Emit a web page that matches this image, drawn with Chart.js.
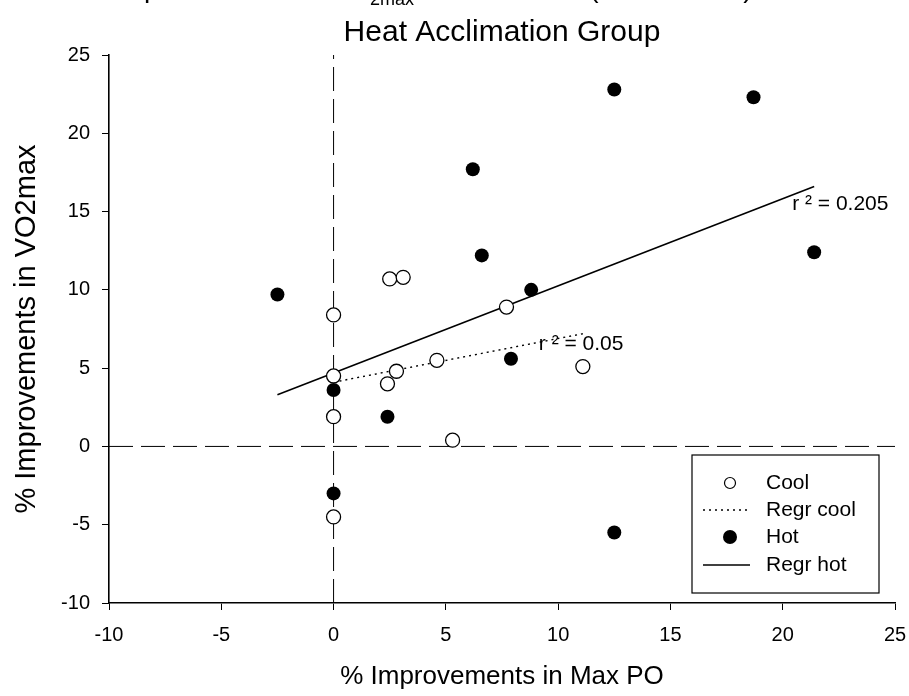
<!DOCTYPE html>
<html>
<head>
<meta charset="utf-8">
<script src="https://cdn.jsdelivr.net/npm/chart.js@4.4.1/dist/chart.umd.min.js"></script>
<style>
  html, body { margin: 0; padding: 0; background: #fff; }
  #wrap { width: 909px; height: 696px; }
</style>
</head>
<body>
<div id="wrap"><canvas id="chart" width="909" height="696"></canvas></div>
<script>
// values
const coolX = [0, 0, 0, 0, 2.4, 2.8, 2.5, 3.1, 4.6, 5.3, 7.7, 11.1];
const coolY = [8.4, 4.5, 1.9, -4.5, 4.0, 4.8, 10.7, 10.8, 5.5, 0.4, 8.9, 5.1];
const hotX = [-2.5, 0, 0, 2.4, 6.2, 6.6, 7.9, 8.8, 12.5, 12.5, 18.7, 21.4];
const hotY = [9.7, 3.6, -3.0, 1.9, 17.7, 12.2, 5.6, 10.0, 22.8, -5.5, 22.3, 12.4];
const regrCoolX = [0, 11.1];
const regrCoolY = [4.1, 7.2];
const regrHotX = [-2.5, 21.4];
const regrHotY = [3.3, 16.6];
const xTicks = [-10, -5, 0, 5, 10, 15, 20, 25];
const yTicks = [-10, -5, 0, 5, 10, 15, 20, 25];
const r2Labels = ['r ² = 0.205', 'r ² = 0.05'];

const FONT = 'Liberation Sans, Arial, sans-serif';
const pts = (xs, ys) => xs.map((x, i) => ({x: x, y: ys[i]}));

const xMin = xTicks[0], xMax = xTicks[xTicks.length - 1];
const yMin = yTicks[0], yMax = yTicks[yTicks.length - 1];

const extras = {
    id: 'extras',
    afterDraw(chart) {
        const ctx = chart.ctx;
        const xs = chart.scales.x, ys = chart.scales.y;
        ctx.save();
        ctx.fillStyle = '#000';
        ctx.textBaseline = 'alphabetic';

        // top title line, mostly cut off by the page edge
        ctx.font = '28px ' + FONT;
        ctx.textAlign = 'right';
        ctx.fillText('% Improvements in VO', 368, -3);
        ctx.font = '18px ' + FONT;
        ctx.textAlign = 'left';
        ctx.fillText('2max', 370, 5);
        ctx.font = '28px ' + FONT;
        ctx.fillText(' and Max PO (Cool vs Hot)', 418, -3);

        ctx.textAlign = 'center';
        ctx.font = '30px ' + FONT;
        ctx.fillText('Heat Acclimation Group', (chart.chartArea.left + chart.chartArea.right) / 2, 41);

        // r squared labels next to the regression ends
        ctx.font = '21px ' + FONT;
        ctx.textAlign = 'left';
        ctx.textBaseline = 'middle';
        ctx.fillText(r2Labels[0], xs.getPixelForValue(regrHotX[1]) - 22, ys.getPixelForValue(regrHotY[1]) + 18);
        ctx.fillText(r2Labels[1], xs.getPixelForValue(regrCoolX[1]) - 44, ys.getPixelForValue(regrCoolY[1]) + 11);

        // legend box
        const lx = 692, ly = 455, lw = 187, lh = 138;
        ctx.strokeStyle = '#000';
        ctx.lineWidth = 1.2;
        ctx.strokeRect(lx, ly, lw, lh);
        const rows = [28, 55, 82, 110];
        ctx.font = '21px ' + FONT;
        ctx.fillText('Cool', 766, ly + rows[0]);
        ctx.fillText('Regr cool', 766, ly + rows[1]);
        ctx.fillText('Hot', 766, ly + rows[2]);
        ctx.fillText('Regr hot', 766, ly + rows[3]);
        ctx.beginPath();
        ctx.arc(730, ly + rows[0], 5.5, 0, Math.PI * 2);
        ctx.fillStyle = '#fff';
        ctx.fill();
        ctx.lineWidth = 1.2;
        ctx.stroke();
        ctx.fillStyle = '#000';
        ctx.beginPath();
        ctx.arc(730, ly + rows[2], 7, 0, Math.PI * 2);
        ctx.fill();
        ctx.lineWidth = 1.3;
        ctx.setLineDash([2, 4]);
        ctx.beginPath();
        ctx.moveTo(703, ly + rows[1]);
        ctx.lineTo(750, ly + rows[1]);
        ctx.stroke();
        ctx.setLineDash([]);
        ctx.beginPath();
        ctx.moveTo(703, ly + rows[3]);
        ctx.lineTo(750, ly + rows[3]);
        ctx.stroke();
        ctx.restore();
    }
};

new Chart(document.getElementById('chart').getContext('2d'), {
    type: 'scatter',
    data: {
        datasets: [
            {
                label: 'Cool',
                data: pts(coolX, coolY),
                pointRadius: 7,
                pointBackgroundColor: '#fff',
                pointBorderColor: '#000',
                pointBorderWidth: 1.3,
                order: 1
            },
            {
                label: 'Hot',
                data: pts(hotX, hotY),
                pointRadius: 7,
                pointBackgroundColor: '#000',
                pointBorderColor: '#000',
                pointBorderWidth: 0,
                order: 0
            },
            {
                label: 'Regr cool',
                data: pts(regrCoolX, regrCoolY),
                showLine: true,
                pointRadius: 0,
                borderColor: '#000',
                borderWidth: 1.4,
                borderDash: [2, 4],
                order: 3
            },
            {
                label: 'Regr hot',
                data: pts(regrHotX, regrHotY),
                showLine: true,
                pointRadius: 0,
                borderColor: '#000',
                borderWidth: 1.6,
                order: 3
            },
            {
                label: 'zero x',
                data: [{x: 0, y: yMin}, {x: 0, y: yMax}],
                showLine: true,
                pointRadius: 0,
                borderColor: '#000',
                borderWidth: 1,
                borderDash: [24, 8],
                order: 5
            },
            {
                label: 'zero y',
                data: [{x: xMin, y: 0}, {x: xMax, y: 0}],
                showLine: true,
                pointRadius: 0,
                borderColor: '#000',
                borderWidth: 1,
                borderDash: [24, 8],
                order: 5
            }
        ]
    },
    options: {
        responsive: false,
        animation: false,
        layout: { padding: { top: 55, right: 14, left: 0, bottom: 0 } },
        plugins: {
            legend: { display: false },
            tooltip: { enabled: false },
            title: { display: false }
        },
        scales: {
            x: {
                type: 'linear',
                min: xMin,
                max: xMax,
                afterBuildTicks: s => { s.ticks = xTicks.map(v => ({value: v})); },
                afterFit: s => { s.height = 93; s.paddingLeft = 0; s.paddingRight = 0; },
                ticks: { color: '#000', font: { family: FONT, size: 20 }, padding: 13 },
                grid: { drawOnChartArea: false, drawTicks: true, tickLength: 7, color: '#000' },
                border: { display: true, color: '#000', width: 1.6 },
                title: {
                    display: true,
                    text: '% Improvements in Max PO',
                    color: '#000',
                    font: { family: FONT, size: 26 },
                    padding: { top: 6 }
                }
            },
            y: {
                type: 'linear',
                min: yMin,
                max: yMax,
                afterBuildTicks: s => { s.ticks = yTicks.map(v => ({value: v})); },
                afterFit: s => { s.width = 109; s.paddingTop = 0; s.paddingBottom = 0; },
                ticks: { color: '#000', font: { family: FONT, size: 20 }, padding: 12 },
                grid: { drawOnChartArea: false, drawTicks: true, tickLength: 7, color: '#000' },
                border: { display: true, color: '#000', width: 1.6 },
                title: {
                    display: true,
                    text: '% Improvements in VO2max',
                    color: '#000',
                    font: { family: FONT, size: 29 },
                    padding: { top: 10, bottom: 0 }
                }
            }
        }
    },
    plugins: [extras]
});
</script>
</body>
</html>
